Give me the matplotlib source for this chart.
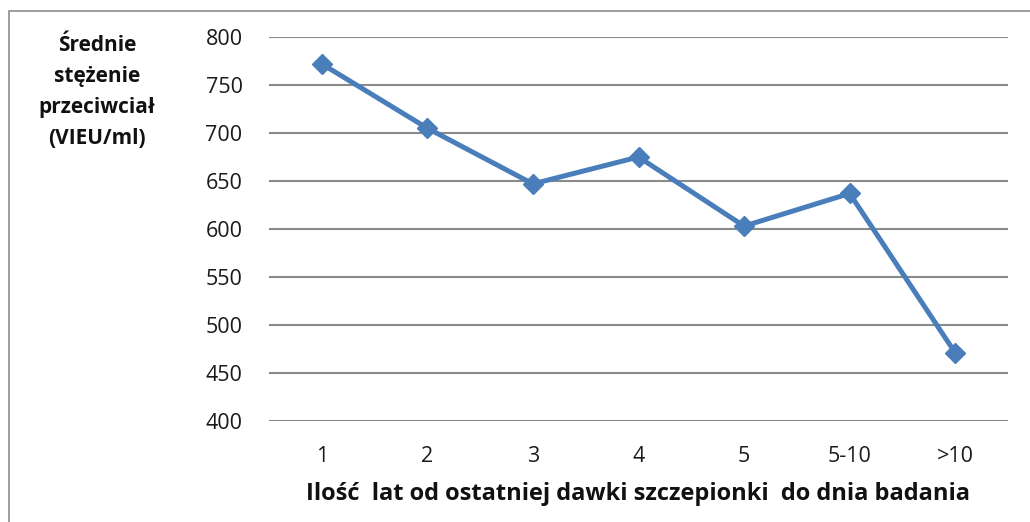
import matplotlib as mpl
import matplotlib.pyplot as plt
from matplotlib.patches import Rectangle

mpl.rcParams['font.family'] = ['Open Sans', 'DejaVu Sans']

# data
categories = ['1', '2', '3', '4', '5', '5-10', '>10']
values = [772, 705, 647, 675, 603, 637, 471]
y_ticks = [400, 450, 500, 550, 600, 650, 700, 750, 800]

W, H = 1030, 522
fig = plt.figure(figsize=(W / 100, H / 100), dpi=100)

# outer chart frame (cropped on the right/bottom)
fig.patches.append(Rectangle((9 / W, -0.1), 1.2, 1 - 11 / H + 0.1,
                             transform=fig.transFigure, fill=False,
                             edgecolor='#8c8c8c', linewidth=1.2))

# plot area: x 269..1008, y 37..421 (pixels)
ax = fig.add_axes([269 / W, 1 - 421 / H, (1008 - 269) / W, (421 - 37) / H])

x = range(len(categories))
ax.plot(x, values, color='#4a7ebb', linewidth=3.6, marker='D',
        markersize=10, zorder=3, clip_on=False)

ax.set_xlim(-0.5, len(categories) - 0.5)
ax.set_ylim(400, 800)
ax.set_yticks(y_ticks)
ax.set_xticks(list(x))
ax.set_xticklabels(categories)
ax.tick_params(axis='y', length=0, pad=19, labelsize=15.5, labelcolor='#1a1a1a')
ax.tick_params(axis='x', length=0, pad=18, labelsize=15.5, labelcolor='#1a1a1a')

ax.grid(axis='y', color='#8a8a8a', linewidth=1.5)
ax.set_axisbelow(True)
for s in ax.spines.values():
    s.set_visible(False)

ax.set_xlabel('Ilość  lat od ostatniej dawki szczepionki  do dnia badania',
              fontsize=17, fontweight='bold', labelpad=11, color='#111111')

fig.text(97 / W, 1 - 92 / H, 'Średnie\nstężenie\nprzeciwciał\n(VIEU/ml)',
         ha='center', va='center', fontsize=15, fontweight='bold',
         linespacing=1.62, color='#111111')

fig.savefig('out.png', dpi=100)
